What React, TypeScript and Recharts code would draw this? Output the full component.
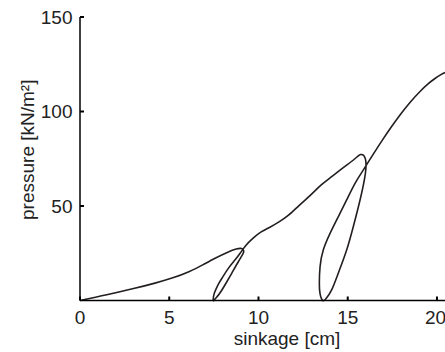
import React from "react";
import { LineChart, Line, XAxis, YAxis } from "recharts";

// sinkage [cm] and pressure [kN/m2] read along the path (load, unload, reload ...)
const sinkage = [
    0, 1.5, 3.0, 4.2, 5.2, 6.1, 6.9, 7.6, 8.25, 8.75, 9.05, 9.17, 9.12,
    8.87, 8.5, 8.12, 7.8, 7.58, 7.47,
    7.5, 7.62, 7.8, 8.0, 8.31, 8.68, 8.98, 9.28, 9.7, 10.15, 10.64, 11.15, 11.7, 12.3, 12.9, 13.5, 14.1, 14.75, 15.35, 15.72, 15.98,
    15.99, 15.69, 15.31, 14.94, 14.47, 14.1, 13.8, 13.6,
    13.45, 13.41, 13.45, 13.63, 14.01, 14.47, 14.94, 15.41, 15.87, 16.2, 16.55, 16.95, 17.45, 17.95, 18.5, 19.05, 19.5, 19.85, 20.2, 20.45,
];
const pressure = [
    0, 3.0, 6.3, 9.2, 12.0, 15.2, 19.0, 22.5, 25.4, 27.2, 27.5, 26.3, 24.5,
    20.5, 14.4, 8.2, 3.4, 0.9, 0,
    3.0, 6.0, 9.4, 12.5, 17, 21.4, 25.1, 29.0, 33.0, 36.3, 38.8, 41.6, 45.3, 50.5, 55.6, 61.0, 65.5, 70.3, 74.6, 77.2, 75.3,
    67.3, 53.2, 39, 26.7, 14.4, 5.6, 1.2, 0,
    3.5, 9.1, 17.9, 26.7, 35.5, 44.3, 53.2, 62, 69, 74.0, 79.2, 85.0, 91.9, 98.4, 104.9, 110.6, 114.6, 117.2, 119.4, 120.6,
];
const xTicks = [0, 5, 10, 15, 20];
const yTicks = [50, 100, 150];

const data = sinkage.map((s, i) => ({ sinkage: s, pressure: pressure[i] }));

const font = { fontFamily: "Liberation Sans, Arial, sans-serif", fontSize: 19, fill: "#222" };

export default function App() {
    return (
        <div style={{ width: 445, height: 352, background: "#fff" }}>
            <style>{"body{margin:0}"}</style>
            <LineChart width={445} height={352} data={data} margin={{ top: 17, right: 0, bottom: 0, left: 0 }}>
                <XAxis
                    dataKey="sinkage"
                    type="number"
                    domain={[0, 20.45]}
                    ticks={xTicks}
                    height={51.5}
                    axisLine={{ stroke: "#000", strokeWidth: 1.5 }}
                    tickLine={{ stroke: "#000", strokeWidth: 2 }}
                    tickSize={-4}
                    tickMargin={14.5}
                    tick={font}
                    label={{ value: "sinkage [cm]", position: "insideBottom", offset: 7, dx: 24.5, ...font }}
                />
                <YAxis
                    dataKey="pressure"
                    type="number"
                    domain={[0, 150]}
                    ticks={yTicks}
                    width={80}
                    axisLine={{ stroke: "#000", strokeWidth: 1.5 }}
                    tickLine={{ stroke: "#000", strokeWidth: 2 }}
                    tickSize={-4}
                    tickMargin={11.5}
                    tick={font}
                    label={{ value: "pressure [kN/m²]", angle: -90, position: "center", dx: -13, dy: -9, ...font }}
                />
                <Line
                    dataKey="pressure"
                    type="natural"
                    stroke="#231f20"
                    strokeWidth={1.6}
                    dot={false}
                    isAnimationActive={false}
                />
            </LineChart>
        </div>
    );
}
